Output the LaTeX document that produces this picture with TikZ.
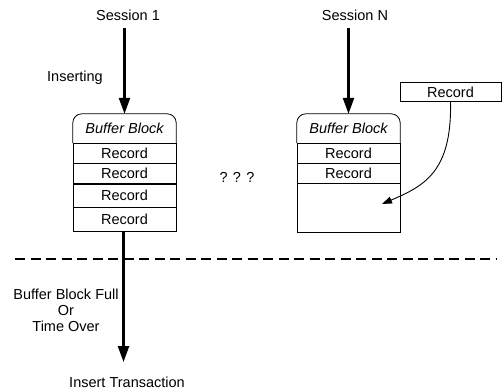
\documentclass[tikz,border=0pt]{standalone}
\usepackage{fontspec}
\setmainfont{Liberation Sans}
\usetikzlibrary{arrows.meta}
\begin{document}
\begin{tikzpicture}[x=1pt,y=-1pt,
  font=\fontsize{14.5}{16}\selectfont,
  txt/.style={inner sep=1pt},
  hdr/.style={minimum width=103pt,minimum height=29pt,inner sep=0pt,font=\fontsize{14.5}{16}\selectfont\itshape},
  rec/.style={draw,line width=0.8pt,minimum width=103pt,inner sep=0pt},
  bigarrow/.style={line width=2.4pt,-{Triangle[length=16pt,width=11pt]}},
  thinarrow/.style={line width=0.9pt,-{Triangle[length=10pt,width=7pt]}},
  divider/.style={line width=2.8pt,dash pattern=on 10pt off 5.5pt}]
\useasboundingbox (0,0) rectangle (502,391);

% left buffer block
\node[hdr] (lh) at (124.5,128.5) {Buffer Block};
\draw[line width=0.8pt] (lh.south west) [rounded corners=9pt] -- (lh.north west) -- (lh.north east) [sharp corners] -- (lh.south east);
\node[rec,minimum height=20pt] (l1) at (124.5,153) {Record};
\node[rec,minimum height=20pt] (l2) at (124.5,173) {Record};
\node[rec,minimum height=23pt] (l3) at (124.5,195.5) {Record};
\node[rec,minimum height=24pt] (l4) at (124.5,219.5) {Record};

% right buffer block
\node[hdr] (rh) at (348.5,128.5) {Buffer Block};
\draw[line width=0.8pt] (rh.south west) [rounded corners=9pt] -- (rh.north west) -- (rh.north east) [sharp corners] -- (rh.south east);
\node[rec,minimum height=20pt] (r1) at (348.5,153) {Record};
\node[rec,minimum height=20pt] (r2) at (348.5,173) {Record};
\node[rec,minimum height=49pt] (r3) at (348.5,207.5) {};

% sessions
\node[txt] (s1) at (128,15) {Session 1};
\node[txt] (sn) at (355,15) {Session N};
\node[txt] (ins) at (75,78) {Inserting};
\draw[bigarrow] (lh.north |- 0,28) -- (lh.north);
\draw[bigarrow] (rh.north |- 0,28) -- (rh.north);

% incoming record
\node[rec,minimum width=101pt,minimum height=19pt] (nr) at (450.5,92) {Record};
\coordinate (drop) at (382,204);
\draw[thinarrow] (nr.south) .. controls (452,172) and (424,186) .. (drop);

\node[txt] (dots) at (237,177) {? ? ?};

% divider
\coordinate (dl) at (15,259);
\coordinate (dr) at (497,259);
\draw[divider] (dl) -- (dr);

% flush to transaction
\node[txt] (it) at (127,382) {Insert Transaction};
\coordinate (itop) at (123.5,362);
\draw[bigarrow] (l4.south -| itop) -- (itop);
\node[txt,align=center] (cond) at (66,310) {Buffer Block Full\\Or\\Time Over};
\end{tikzpicture}
\end{document}
